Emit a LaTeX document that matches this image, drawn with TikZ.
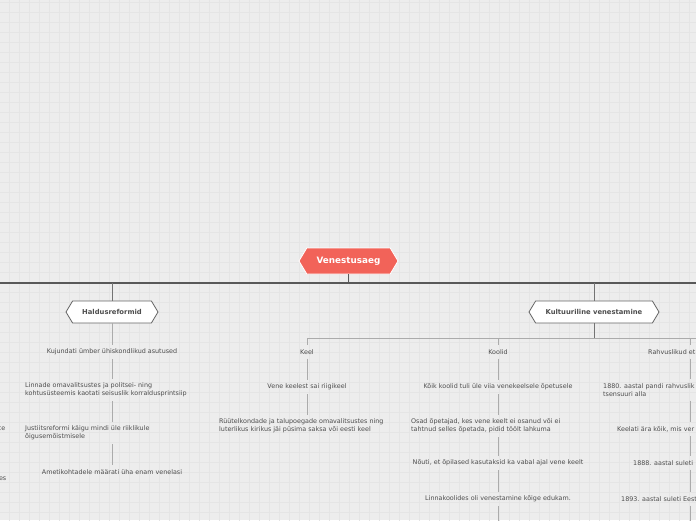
\documentclass[tikz,border=0pt]{standalone}
\usepackage{fontspec}
\setmainfont{DejaVu Sans}
\usetikzlibrary{shapes.symbols}

\definecolor{rootred}{RGB}{242,99,89}
\definecolor{paper}{RGB}{237,237,237}
\definecolor{gridgray}{RGB}{229,229,229}
\definecolor{textgray}{RGB}{78,78,78}

\tikzset{
    hexbox/.style={signal, signal to=east and west, signal pointer angle=118,
        draw=black!60, fill=white, line width=0.8pt, inner sep=0pt,
        text=textgray, font=\bfseries\fontsize{6.8}{8}\selectfont},
    rootbox/.style={hexbox, fill=rootred, draw=white, text=white,
        font=\bfseries\fontsize{8.8}{10}\selectfont},
    leaf/.style={inner sep=4pt, align=left, text=textgray,
        font=\fontsize{6.4}{7.8}\selectfont},
    mainline/.style={draw=black!65, line width=1.4pt},
    branchline/.style={draw=black!55, line width=1pt},
    leafline/.style={draw=black!33, line width=0.9pt},
}

\begin{document}
\begin{tikzpicture}[x=1pt, y=-1pt]
    \useasboundingbox (0,0) rectangle (696,520);

    % Paper
    \fill[paper] (0,0) rectangle (696,520);
    \draw[gridgray, line width=0.5pt, shift={(-0.5,2.5)}, step=10pt] (-10,-10) grid (710,530);

    % Root and main line
    \node[rootbox, minimum width=99, minimum height=26] (root) at (348.5,261) {Venestusaeg};
    \coordinate (mainL) at (-5,283);
    \coordinate (mainR) at (701,283);

    % Branches
    \node[hexbox, minimum width=92, minimum height=22] (haldus) at (112,312) {Haldusreformid};
    \node[hexbox, minimum width=130, minimum height=22] (kultuur) at (594,312) {Kultuuriline venestamine};

    % Haldusreformid
    \node[leaf] (kujundati) at (112,352) {Kujundati ümber ühiskondlikud asutused};
    \node[leaf, anchor=west] (linnade) at (21,390) {Linnade omavalitsustes ja politsei- ning\\kohtusüsteemis kaotati seisuslik korraldusprintsiip};
    \node[leaf, anchor=west] (justiits) at (21,433) {Justiitsreformi käigu mindi üle riiklikule\\õigusemõistmisele};
    \node[leaf] (ametikoht) at (112,472) {Ametikohtadele määrati üha enam venelasi};

    % Cut off at the left edge
    \node[leaf, anchor=east] (fragA) at (9.5,429) {ce};
    \node[leaf, anchor=east] (fragB) at (10.5,479) {es};

    % Kultuuriline venestamine
    \coordinate (barL) at (307,338);
    \coordinate (barR) at (701,338);
    \coordinate (rahvx) at (690,338);

    \node[leaf] (keel) at (307,352) {Keel};
    \node[leaf] (vene) at (307,387) {Vene keelest sai riigikeel};
    \node[leaf, anchor=west] (ryytel) at (215,426) {Rüütelkondade ja talupoegade omavalitsustes ning\\luterlikus kirikus jäi püsima saksa või eesti keel};

    \node[leaf] (koolid) at (498,352) {Koolid};
    \node[leaf] (koik) at (498,387) {Kõik koolid tuli üle viia venekeelsele õpetusele};
    \node[leaf, anchor=west] (osad) at (407,426) {Osad õpetajad, kes vene keelt ei osanud või ei\\tahtnud selles õpetada, pidid töölt lahkuma};
    \node[leaf] (nouti) at (498,463) {Nõuti, et õpilased kasutaksid ka vabal ajal vene keelt};
    \node[leaf] (linnakoolid) at (498,499) {Linnakoolides oli venestamine kõige edukam.};
    \coordinate (koolidend) at (498,525);

    \node[leaf, anchor=west] (rahvuslikud) at (644,352) {Rahvuslikud et};
    \node[leaf, anchor=west] (r1880) at (599,390) {1880. aastal pandi rahvuslik\\tsensuuri alla};
    \node[leaf, anchor=west] (keelati) at (613,429) {Keelati ära kõik, mis ver};
    \node[leaf, anchor=west] (r1888) at (629,463) {1888. aastal suleti};
    \node[leaf, anchor=west] (r1893) at (617,499) {1893. aastal suleti Eest};
    \coordinate (rahvend) at (690,525);

    % Connectors
    \draw[mainline] (mainL) -- (mainR);
    \draw[mainline, line width=1pt] (root.south) -- (root |- mainL);
    \draw[branchline] (haldus.north) -- (haldus |- mainL);
    \draw[branchline] (kultuur.north) -- (kultuur |- mainL);
    \draw[branchline] (kultuur.south) -- (kultuur |- barL);
    \draw[leafline] (barL) -- (barR);

    \foreach \a/\b in {haldus/kujundati, kujundati/linnade, linnade/justiits, justiits/ametikoht} {
        \draw[leafline] (haldus |- \a.south) -- (haldus |- \b.north);
    }
    \draw[leafline] (barL) -- (keel.north);
    \foreach \a/\b in {keel/vene, vene/ryytel} {
        \draw[leafline] (keel |- \a.south) -- (keel |- \b.north);
    }
    \draw[leafline] (koolid |- barL) -- (koolid.north);
    \foreach \a/\b in {koolid/koik, koik/osad, osad/nouti, nouti/linnakoolid} {
        \draw[leafline] (koolid |- \a.south) -- (koolid |- \b.north);
    }
    \draw[leafline] (linnakoolid.south) -- (koolidend);
    \draw[leafline] (rahvx) -- (rahvx |- rahvuslikud.north);
    \foreach \a/\b in {rahvuslikud/r1880, r1880/keelati, keelati/r1888, r1888/r1893} {
        \draw[leafline] (rahvx |- \a.south) -- (rahvx |- \b.north);
    }
    \draw[leafline] (rahvx |- r1893.south) -- (rahvend);
\end{tikzpicture}
\end{document}
